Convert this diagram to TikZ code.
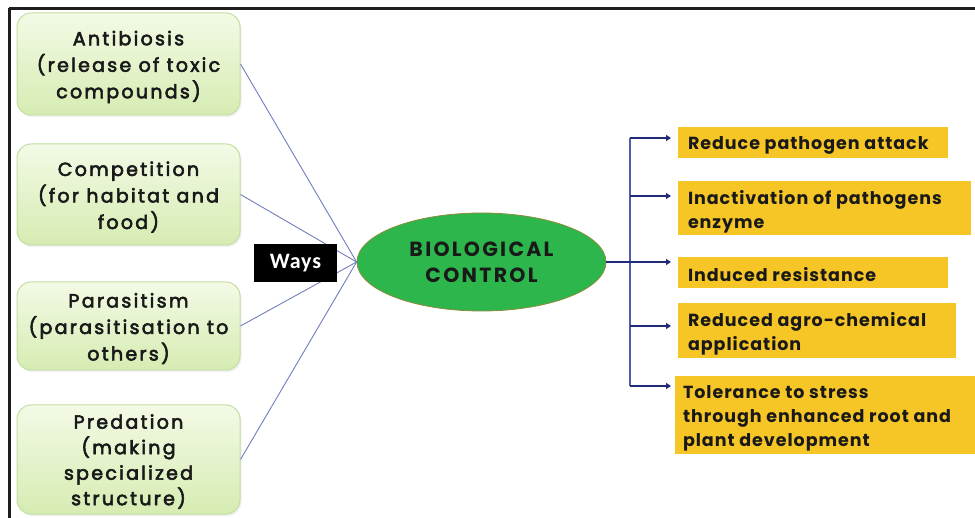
\documentclass[tikz,border=0pt]{standalone}
\usepackage{fontspec}
\setmainfont{Poppins}
\newfontfamily\waysfont{Carlito}[LetterSpace=4]
\newfontfamily\leftfont{Poppins}[LetterSpace=12, FakeBold=3]
\newfontfamily\benefitfont{Poppins}[LetterSpace=5.5]
\newfontfamily\titlefont{Poppins}[LetterSpace=11]
\usetikzlibrary{arrows.meta,shadows,shapes.geometric}

\definecolor{leafTop}{RGB}{243,250,230}
\definecolor{leafBot}{RGB}{214,236,178}
\definecolor{leafEdge}{RGB}{196,222,160}
\definecolor{bioGreen}{RGB}{44,182,76}
\definecolor{bioEdge}{RGB}{140,140,60}
\definecolor{gold}{RGB}{246,197,38}
\definecolor{spoke}{RGB}{112,126,190}
\definecolor{trunk}{RGB}{80,92,172}
\definecolor{navy}{RGB}{32,42,122}
\definecolor{frame}{RGB}{30,30,30}

\tikzset{
  waybox/.style={rounded corners=14pt, draw=leafEdge, line width=1pt,
    top color=leafTop, bottom color=leafBot, minimum width=223pt,
    drop shadow={opacity=0.12, shadow xshift=1.5pt, shadow yshift=-2pt}},
  waytext/.style={align=center, inner sep=0pt, text=black!90,
    font=\leftfont\fontsize{19}{26.5}\selectfont},
  benefit/.style={fill=gold, draw=none, inner sep=0pt},
  benefittext/.style={anchor=west, align=left, inner sep=0pt, text=black!90,
    font=\benefitfont\fontsize{17.5}{24}\bfseries\selectfont},
  spokeline/.style={draw=spoke, line width=0.9pt},
  outarrow/.style={draw=navy, line width=2.6pt, -{Triangle[length=5pt,width=6pt]}},
}

\begin{document}
\begin{tikzpicture}[x=1pt,y=-1pt]
  \useasboundingbox (0,0) rectangle (975,518);
  \fill[white] (0,0) rectangle (975,518);

  % frame edges (top and left)
  \draw[frame, line width=3pt] (9,8.5) -- (975,8.5);
  \draw[frame, line width=3pt] (9,8.5) -- (9,518);

  % left column: ways of control
  \node[waybox, minimum height=102pt] (anti) at (128.5,64) {};
  \node[waybox, minimum height=101pt] (comp) at (128.5,194.5) {};
  \node[waybox, minimum height=88pt]  (para) at (128.5,326) {};
  \node[waybox, minimum height=109pt] (pred) at (128.5,459.5) {};
  \node[waytext] (antiT) at ([yshift=-3pt]anti.center) {Antibiosis\\(release of toxic\\compounds)};
  \node[waytext] (compT) at ([yshift=-2.5pt]comp.center) {Competition\\(for habitat and\\food)};
  \node[waytext] (paraT) at ([yshift=-2.5pt]para.center) {Parasitism\\(parasitisation to\\others)};
  \node[waytext, font=\leftfont\fontsize{19}{25.5}\selectfont] (predT) at ([yshift=-2pt]pred.center)
    {Predation\\(making\\specialized\\structure)};

  % central ellipse
  \node[ellipse, fill=bioGreen, draw=bioEdge, line width=0.8pt,
        minimum width=249pt, minimum height=98pt, inner sep=0pt, align=center,
        font=\titlefont\fontsize{20.5}{26}\bfseries\selectfont, text=black!90]
        (bio) at (481.5,262) {BIOLOGICAL\\CONTROL};

  % spokes into the ellipse
  \draw[spokeline] (anti.east) -- (bio.west);
  \draw[spokeline] (comp.east) -- (bio.west);
  \draw[spokeline] (para.east) -- (bio.west);
  \draw[spokeline] (pred.east) -- (bio.west);

  % label over the spokes
  \node[fill=black, text=white, minimum width=83pt, minimum height=38pt, inner sep=0pt,
        font=\waysfont\fontsize{22}{26}\bfseries\selectfont] (ways) at (295.5,263) {Ways};

  % benefits column
  \node[benefit, minimum width=270pt, minimum height=31pt] (b1) at (813,142.5) {};
  \node[benefit, minimum width=293pt, minimum height=54pt] (b2) at (824.5,208) {};
  \node[benefit, minimum width=270pt, minimum height=31pt] (b3) at (813,272.5) {};
  \node[benefit, minimum width=278pt, minimum height=55pt] (b4) at (817,330.5) {};
  \node[benefit, minimum width=300pt, minimum height=78pt] (b5) at (825,415) {};
  \node[benefittext] (b1T) at ([xshift=10pt,yshift=-2.5pt]b1.west) {Reduce pathogen attack};
  \node[benefittext] (b2T) at ([xshift=10pt,yshift=-3.5pt]b2.west) {Inactivation of pathogens\\enzyme};
  \node[benefittext] (b3T) at ([xshift=10pt,yshift=-2.5pt]b3.west) {Induced resistance};
  \node[benefittext] (b4T) at ([xshift=10pt,yshift=-3.5pt]b4.west) {Reduced agro-chemical\\application};
  \node[benefittext] (b5T) at ([xshift=8pt,yshift=-3.5pt]b5.west)
    {Tolerance to stress\\through enhanced root and\\plant development};

  % branching connector
  \coordinate (j1) at (630,138);
  \coordinate (j2) at (630,196);
  \coordinate (j3) at (630,262);
  \coordinate (j4) at (630,326);
  \coordinate (j5) at (630,386);
  \coordinate (e1) at (671,138);
  \coordinate (e2) at (671,196);
  \coordinate (e3) at (671,262);
  \coordinate (e4) at (671,326);
  \coordinate (e5) at (671,386);

  \draw[trunk, line width=1.6pt] (j1) -- (j5);
  \draw[navy, line width=2.6pt] (bio.east) -- (j3);
  \draw[outarrow] (j1) -- (e1);
  \draw[outarrow] (j2) -- (e2);
  \draw[outarrow] (j3) -- (e3);
  \draw[outarrow] (j4) -- (e4);
  \draw[outarrow] (j5) -- (e5);
\end{tikzpicture}
\end{document}
